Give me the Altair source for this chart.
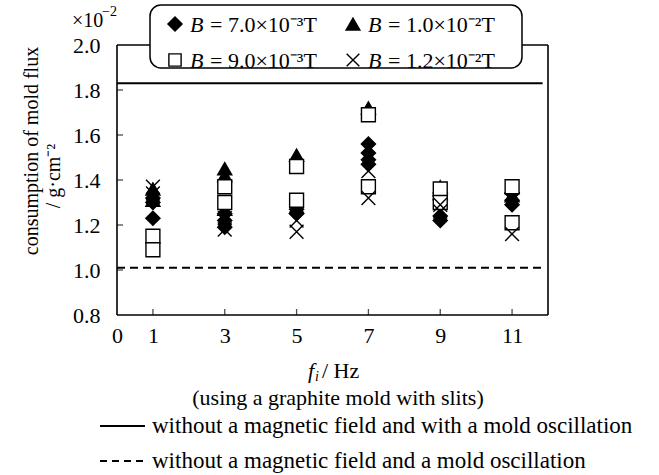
import altair as alt
import pandas as pd

FONT = "Liberation Serif"

# Mold flux consumption (x10^-2 g/cm^2) against oscillation frequency f_i (Hz)
# B = 7.0e-3 T  (filled diamonds)
b70_f = [1, 1, 1, 3, 3, 3, 5, 5, 7, 7, 7, 7, 9, 9, 9, 11, 11, 11]
b70_v = [1.23, 1.30, 1.32, 1.25, 1.22, 1.19, 1.27, 1.25, 1.56, 1.52, 1.49, 1.47,
         1.33, 1.24, 1.22, 1.34, 1.31, 1.29]
# B = 1.0e-2 T  (filled triangles)
b100_f = [1, 1, 3, 3, 3, 5, 5, 7, 9, 9, 11, 11]
b100_v = [1.36, 1.31, 1.45, 1.42, 1.27, 1.51, 1.28, 1.72, 1.37, 1.34, 1.37, 1.33]
# B = 9.0e-3 T  (open squares)
b90_f = [1, 1, 3, 3, 5, 5, 7, 7, 9, 9, 11, 11]
b90_v = [1.15, 1.09, 1.37, 1.30, 1.46, 1.31, 1.69, 1.37, 1.36, 1.30, 1.37, 1.21]
# B = 1.2e-2 T  (crosses)
b120_f = [1, 1, 3, 3, 5, 5, 7, 7, 9, 9, 11]
b120_v = [1.37, 1.34, 1.18, 1.23, 1.22, 1.17, 1.44, 1.32, 1.29, 1.26, 1.16]

# Reference levels without a magnetic field
ref_with_osc = 1.83
ref_without_osc = 1.01
ref_x_start, ref_x_end = 0, 11.85

x_ticks = [1, 3, 5, 7, 9, 11]
x_labels = [0, 1, 3, 5, 7, 9, 11]
y_ticks = [0.8, 1.0, 1.2, 1.4, 1.6, 1.8, 2.0]

W, H = 431, 270
X_SCALE = alt.Scale(domain=[0, 12], nice=False, zero=False)
Y_SCALE = alt.Scale(domain=[0.8, 2.0], nice=False, zero=False)

series_order = ["b70", "b100", "b90", "b120"]
shapes = ["diamond", "triangle-up", "square", "M-1,-1L1,1M-1,1L1,-1"]
fills = ["black", "black", "white", "transparent"]
sizes = [200, 190, 150, 160]

rows = []
for key, fs, vs in [("b70", b70_f, b70_v), ("b100", b100_f, b100_v),
                    ("b90", b90_f, b90_v), ("b120", b120_f, b120_v)]:
    for i, (f, v) in enumerate(zip(fs, vs)):
        rows.append({"series": key, "f": f, "v": v, "order": series_order.index(key) * 100 + i})
pts = pd.DataFrame(rows)

x_axis = alt.Axis(values=x_labels, labelFont=FONT, labelFontSize=22, labelColor="black",
                  domain=False, ticks=False, tickSize=0, grid=False, title=None,
                  labelPadding=10, labelFlush=False, labelOverlap=False)
y_axis = alt.Axis(values=y_ticks, format=".1f", labelFont=FONT, labelFontSize=22,
                  labelColor="black", domain=False, ticks=False, tickSize=0, grid=False,
                  title=None, labelPadding=17, labelFlush=False, labelOverlap=False)

points = alt.Chart(pts).mark_point(filled=True, stroke="black", strokeWidth=1.4, opacity=1).encode(
    x=alt.X("f:Q", scale=X_SCALE, axis=x_axis),
    y=alt.Y("v:Q", scale=Y_SCALE, axis=y_axis),
    shape=alt.Shape("series:N", scale=alt.Scale(domain=series_order, range=shapes), legend=None),
    fill=alt.Fill("series:N", scale=alt.Scale(domain=series_order, range=fills), legend=None),
    size=alt.Size("series:N", scale=alt.Scale(domain=series_order, range=sizes), legend=None),
    order=alt.Order("order:Q"),
)

ref_df = pd.DataFrame({"x0": [ref_x_start, ref_x_start], "x1": [ref_x_end, ref_x_end],
                       "level": [ref_with_osc, ref_without_osc], "kind": ["solid", "dashed"]})
ref_solid = alt.Chart(ref_df[ref_df.kind == "solid"]).mark_rule(color="black", strokeWidth=2).encode(
    x=alt.X("x0:Q", scale=X_SCALE), x2="x1:Q", y=alt.Y("level:Q", scale=Y_SCALE))
ref_dashed = alt.Chart(ref_df[ref_df.kind == "dashed"]).mark_rule(
    color="black", strokeWidth=2, strokeDash=[8, 5]).encode(
    x=alt.X("x0:Q", scale=X_SCALE), x2="x1:Q", y=alt.Y("level:Q", scale=Y_SCALE))

# inward tick marks
xt = alt.Chart(pd.DataFrame({"t": x_ticks})).mark_tick(
    orient="vertical", size=6, thickness=1.3, color="black").encode(
    x=alt.X("t:Q", scale=X_SCALE), y=alt.value(H - 3))
yt = alt.Chart(pd.DataFrame({"t": y_ticks[1:-1]})).mark_tick(
    orient="horizontal", size=6, thickness=1.3, color="black").encode(
    y=alt.Y("t:Q", scale=Y_SCALE), x=alt.value(3))


def one_row():
    return pd.DataFrame({"k": [0]})


def frame_line(x, x2, y, y2):
    return alt.Chart(one_row()).mark_rule(color="black", strokeWidth=1.6).encode(
        x=alt.value(x), x2=alt.value(x2), y=alt.value(y), y2=alt.value(y2))


frame = [frame_line(0, W, 0, 0), frame_line(W, W, 0, H),
         frame_line(0, W, H, H), frame_line(0, 0, 0, H)]


def label(text, x, y, size=20, align="left", baseline="middle", angle=0, style="normal"):
    kw = dict(font=FONT, fontSize=size, align=align, baseline=baseline, color="black",
              fontStyle=style)
    if angle:
        kw["angle"] = angle
    return alt.Chart(pd.DataFrame({"t": [text]})).mark_text(**kw).encode(
        text="t:N", x=alt.value(x), y=alt.value(y))


def sym(shape, x, y, fill, size):
    return alt.Chart(one_row()).mark_point(
        shape=shape, filled=True, fill=fill, stroke="black", strokeWidth=1.4,
        size=size, opacity=1).encode(x=alt.value(x), y=alt.value(y))


# legend box on top of the frame
box = alt.Chart(one_row()).mark_rect(
    fill="white", stroke="black", strokeWidth=1.5, cornerRadius=11).encode(
    x=alt.value(33), x2=alt.value(405), y=alt.value(-40), y2=alt.value(23))

legend_items = [
    (shapes[0], fills[0], sizes[0], 58, -21, "= 7.0×10⁻³T"),
    (shapes[1], fills[1], sizes[1], 236, -21, "= 1.0×10⁻²T"),
    (shapes[2], fills[2], sizes[2], 58, 15, "= 9.0×10⁻³T"),
    (shapes[3], fills[3], sizes[3], 236, 15, "= 1.2×10⁻²T"),
]
legend_layers = []
for shp, fl, sz, lx, ly, txt in legend_items:
    legend_layers.append(sym(shp, lx, ly, fl, sz))
    legend_layers.append(label("B", lx + 15, ly + 1, size=22, style="italic"))
    legend_layers.append(label(txt, lx + 35, ly + 1, size=22))

texts = [
    label("×10", -45, -24),
    label("−2", -15, -33, size=14),
    label("consumption of mold flux", -85, 106, align="center", angle=270),
    label("/ g·cm⁻²", -63, 131, align="center", angle=270),
    label("f", 191, 326, size=22, style="italic"),
    label("i", 198, 332, size=14, style="italic"),
    label("/ Hz", 205, 326, size=22),
    label("(using a graphite mold with slits)", 221, 353, size=22, align="center"),
    label("without a magnetic field and with a mold oscillation", 35, 381, size=23),
    label("without a magnetic field and a mold oscillation", 35, 416, size=23),
]

sample_solid = alt.Chart(one_row()).mark_rule(color="black", strokeWidth=2).encode(
    x=alt.value(-17), x2=alt.value(28), y=alt.value(381))
sample_dashed = alt.Chart(one_row()).mark_rule(
    color="black", strokeWidth=2, strokeDash=[7, 5]).encode(
    x=alt.value(-17), x2=alt.value(28), y=alt.value(416))

chart = alt.layer(
    ref_solid, ref_dashed, points, xt, yt, *frame, box, *legend_layers, *texts,
    sample_solid, sample_dashed,
).properties(
    width=W, height=H,
    autosize=alt.AutoSizeParams(type="none"),
    padding={"left": 117, "top": 45, "right": 111, "bottom": 160},
    background="white",
).configure_view(stroke=None)

chart.save("out.html", embed_options={"renderer": "svg", "actions": False})
